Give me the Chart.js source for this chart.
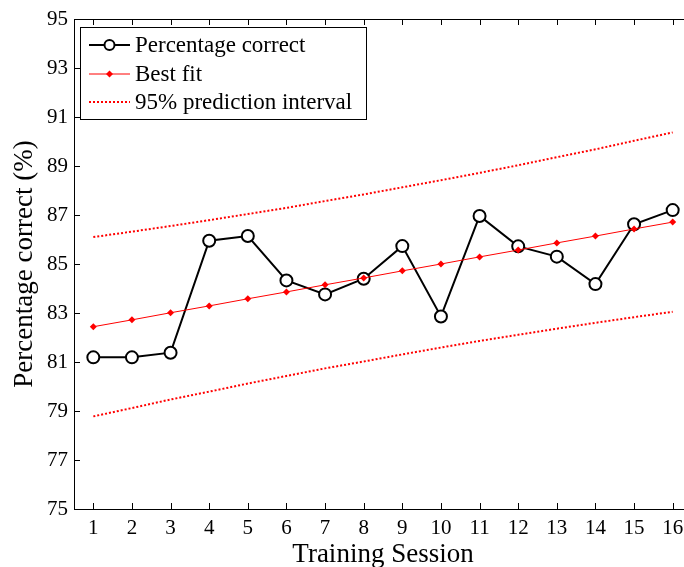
<!DOCTYPE html>
<html>
<head>
<meta charset="utf-8">
<script src="https://cdn.jsdelivr.net/npm/chart.js@4"></script>
<style>
  html, body { margin: 0; padding: 0; background: #fff; overflow: hidden; }
  #wrap { width: 684px; height: 567px; overflow: hidden; }
</style>
</head>
<body>
<div id="wrap"><canvas id="chart" width="720" height="567"></canvas></div>
<script>
// Training sessions and measured accuracy
const sessions = [1, 2, 3, 4, 5, 6, 7, 8, 9, 10, 11, 12, 13, 14, 15, 16];
const percentCorrect = [81.19, 81.19, 81.38, 85.95, 86.14, 84.33, 83.76, 84.40,
  85.73, 82.86, 86.96, 85.72, 85.30, 84.18, 86.62, 87.20];
const bestFit = [82.44, 82.72, 83.01, 83.29, 83.58, 83.86, 84.15, 84.43,
  84.72, 85.00, 85.29, 85.57, 85.86, 86.14, 86.43, 86.71];
const upperPI = [86.10, 86.32, 86.55, 86.79, 87.04, 87.29, 87.57, 87.84,
  88.13, 88.42, 88.72, 89.03, 89.36, 89.68, 90.03, 90.37];
const lowerPI = [78.78, 79.12, 79.47, 79.79, 80.12, 80.43, 80.74, 81.02,
  81.31, 81.59, 81.86, 82.11, 82.36, 82.60, 82.83, 83.05];
const yTicks = [75, 77, 79, 81, 83, 85, 87, 89, 91, 93, 95];

const serif = "'Liberation Serif', 'Times New Roman', serif";
const pts = (ys) => sessions.map((s, i) => ({ x: s, y: ys[i] }));

// box, inward ticks on all sides, legend inside the axes
const matlabBox = {
  id: "matlabBox",
  afterDraw(chart) {
    const ctx = chart.ctx;
    const { left, right, top, bottom } = chart.chartArea;
    const xs = chart.scales.x, ys = chart.scales.y;
    ctx.save();
    ctx.strokeStyle = "#000";
    ctx.lineWidth = 1;
    ctx.strokeRect(left + 0.5, top + 0.5, right - left, bottom - top);
    ctx.beginPath();
    sessions.forEach((v) => {
      const px = Math.round(xs.getPixelForValue(v)) + 0.5;
      ctx.moveTo(px, bottom); ctx.lineTo(px, bottom - 6);
      ctx.moveTo(px, top); ctx.lineTo(px, top + 6);
    });
    yTicks.forEach((v) => {
      const py = Math.round(ys.getPixelForValue(v)) + 0.5;
      ctx.moveTo(left, py); ctx.lineTo(left + 6, py);
      ctx.moveTo(right, py); ctx.lineTo(right - 6, py);
    });
    ctx.stroke();

    // legend
    const bx = 80.5, by = 27.5, bw = 286, bh = 92;
    ctx.fillStyle = "#fff";
    ctx.fillRect(bx, by, bw, bh);
    ctx.strokeRect(bx, by, bw, bh);
    const rows = [45, 74, 102];
    const x0 = 89, x1 = 130, xm = (x0 + x1) / 2;
    ctx.font = "23px " + serif;
    ctx.textBaseline = "middle";
    chart.data.datasets.slice(0, 3).forEach((ds, i) => {
      const y = rows[i];
      ctx.save();
      ctx.strokeStyle = ds.borderColor;
      ctx.lineWidth = ds.borderWidth;
      ctx.setLineDash(ds.borderDash || []);
      ctx.beginPath();
      ctx.moveTo(x0, y); ctx.lineTo(x1, y);
      ctx.stroke();
      ctx.restore();
      if (i === 0) {
        ctx.beginPath();
        ctx.arc(xm, y, 5, 0, Math.PI * 2);
        ctx.fillStyle = "#fff"; ctx.fill();
        ctx.lineWidth = 2; ctx.strokeStyle = "#000"; ctx.stroke();
      } else if (i === 1) {
        ctx.beginPath();
        ctx.moveTo(xm, y - 3.5); ctx.lineTo(xm + 3.5, y);
        ctx.lineTo(xm, y + 3.5); ctx.lineTo(xm - 3.5, y);
        ctx.closePath();
        ctx.fillStyle = "#f00"; ctx.fill();
      }
      ctx.fillStyle = "#000";
      ctx.fillText(ds.label, 135, y + 1);
    });
    ctx.restore();
  }
};

new Chart(document.getElementById("chart").getContext("2d"), {
  type: "line",
  data: {
    datasets: [
      {
        label: "Percentage correct",
        data: pts(percentCorrect),
        borderColor: "#000",
        borderWidth: 2,
        pointRadius: 6,
        pointHoverRadius: 6,
        pointBackgroundColor: "#fff",
        pointBorderColor: "#000",
        pointBorderWidth: 2,
        order: 3,
      },
      {
        label: "Best fit",
        data: pts(bestFit),
        borderColor: "#f00",
        borderWidth: 1,
        pointStyle: "rectRot",
        pointRadius: 3.5,
        pointBackgroundColor: "#f00",
        pointBorderColor: "#f00",
        pointBorderWidth: 0,
        order: 1,
      },
      {
        label: "95% prediction interval",
        data: pts(upperPI),
        borderColor: "#f00",
        borderWidth: 2,
        borderDash: [2, 2],
        pointRadius: 0,
        order: 2,
      },
      {
        label: "lower",
        data: pts(lowerPI),
        borderColor: "#f00",
        borderWidth: 2,
        borderDash: [2, 2],
        pointRadius: 0,
        order: 2,
      },
    ],
  },
  options: {
    responsive: false,
    animation: false,
    devicePixelRatio: 1,
    layout: { padding: { top: 19, right: 28, left: 0, bottom: 0 } },
    plugins: { legend: { display: false }, tooltip: { enabled: false } },
    scales: {
      x: {
        type: "linear",
        min: 0.5,
        max: 16.5,
        afterBuildTicks: (s) => { s.ticks = sessions.map((v) => ({ value: v })); },
        afterFit: (s) => { s.height = 58; },
        grid: { display: false, drawTicks: false },
        border: { display: false },
        ticks: { color: "#000", font: { family: serif, size: 21 }, padding: 7, maxRotation: 0, autoSkip: false },
        title: { display: true, text: "Training Session", color: "#000", font: { family: serif, size: 27 }, padding: { top: 0, bottom: -4 } },
      },
      y: {
        min: 75,
        max: 95,
        afterBuildTicks: (s) => { s.ticks = yTicks.map((v) => ({ value: v })); },
        afterFit: (s) => { s.width = 74; },
        grid: { display: false, drawTicks: false },
        border: { display: false },
        ticks: { color: "#000", font: { family: serif, size: 21 }, padding: 6 },
        title: { display: true, text: "Percentage correct (%)", color: "#000", font: { family: serif, size: 27 }, padding: { top: 9, bottom: 0 } },
      },
    },
  },
  plugins: [matlabBox],
});
</script>
</body>
</html>
